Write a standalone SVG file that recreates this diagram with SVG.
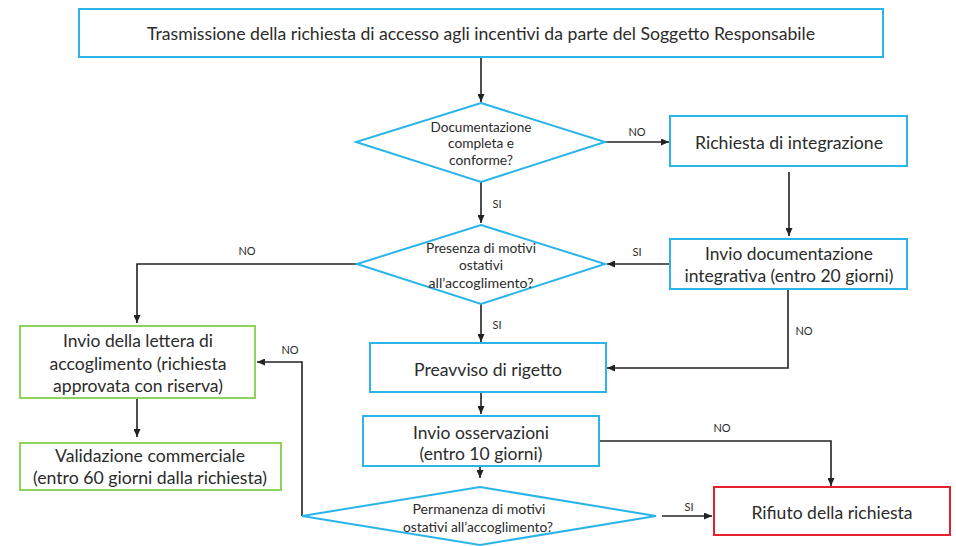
<svg xmlns="http://www.w3.org/2000/svg" width="956" height="546" viewBox="0 0 956 546">
<defs>
<marker id="ah" markerUnits="userSpaceOnUse" markerWidth="8" markerHeight="7" refX="8" refY="3.5" orient="auto">
<path d="M0,0 L8,3.5 L0,7 z" fill="#222"/>
</marker>
</defs>
<style>
.blue{fill:#fff;stroke:#29b5ea;stroke-width:2}
.green{fill:#fff;stroke:#8fd35a;stroke-width:2}
.red{fill:#fff;stroke:#e8202a;stroke-width:2}
text{font-family:Lato,"Open Sans",sans-serif;fill:#2b2b2b;text-anchor:middle;dominant-baseline:central}
.t{font-size:18px}
.d{font-size:13.5px}
.l{font-size:11px}
.c{fill:none;stroke:#222;stroke-width:1.6;marker-end:url(#ah)}
</style>
<rect width="956" height="546" fill="#fff"/>
<g id="connectors">
<path class="c" d="M481,58 V102"/>
<path class="c" d="M605,142 H669"/>
<path class="c" d="M789,172 V236"/>
<path class="c" d="M669,264 H607"/>
<path class="c" d="M481,182 V223"/>
<path class="c" d="M357,264 H137 V323"/>
<path class="c" d="M481,304 V342"/>
<path class="c" d="M788,290 V368 H607"/>
<path class="c" d="M481,393 V414"/>
<path class="c" d="M599,441 H831 V486"/>
<path class="c" d="M480,466 V478"/>
<path class="c" d="M662,516 H712"/>
<path class="c" d="M302,516 V362 H257"/>
<path class="c" d="M137,399 V437"/>
<text class="l" x="637" y="131">NO</text>
<text class="l" x="497" y="203">SI</text>
<text class="l" x="637" y="251">SI</text>
<text class="l" x="247" y="250">NO</text>
<text class="l" x="497" y="324">SI</text>
<text class="l" x="804" y="330">NO</text>
<text class="l" x="722" y="427">NO</text>
<text class="l" x="290" y="349">NO</text>
<text class="l" x="689" y="506">SI</text>
</g>
<g id="n_trasmissione">
<rect class="blue" x="79" y="9" width="804" height="48"/>
<text class="t" x="481" y="33" font-size="17" textLength="668" lengthAdjust="spacingAndGlyphs">Trasmissione della richiesta di accesso agli incentivi da parte del Soggetto Responsabile</text>
</g>
<g id="n_documentazione">
<polygon class="blue" points="481,103 605,142 481,182 356,142"/>
<text class="d" x="481" y="127" textLength="101" lengthAdjust="spacingAndGlyphs">Documentazione</text>
<text class="d" x="481" y="143" textLength="66" lengthAdjust="spacingAndGlyphs">completa e</text>
<text class="d" x="481" y="160" textLength="64" lengthAdjust="spacingAndGlyphs">conforme?</text>
</g>
<g id="n_richiesta_integrazione">
<rect class="blue" x="670" y="116" width="237" height="50"/>
<text class="t" x="789" y="142" textLength="188" lengthAdjust="spacingAndGlyphs">Richiesta di integrazione</text>
</g>
<g id="n_invio_doc">
<rect class="blue" x="670" y="239" width="237" height="50"/>
<text class="t" x="789" y="253" textLength="168" lengthAdjust="spacingAndGlyphs">Invio documentazione</text>
<text class="t" x="789" y="275" textLength="209" lengthAdjust="spacingAndGlyphs">integrativa (entro 20 giorni)</text>
</g>
<g id="n_presenza">
<polygon class="blue" points="481,225 605,264 481,304 357,264"/>
<text class="d" x="481" y="248" textLength="110" lengthAdjust="spacingAndGlyphs">Presenza di motivi</text>
<text class="d" x="481" y="265" textLength="44" lengthAdjust="spacingAndGlyphs">ostativi</text>
<text class="d" x="481" y="283" textLength="105" lengthAdjust="spacingAndGlyphs">all’accoglimento?</text>
</g>
<g id="n_lettera">
<rect class="green" x="20" y="326" width="235" height="72"/>
<text class="t" x="138" y="340" textLength="150" lengthAdjust="spacingAndGlyphs">Invio della lettera di</text>
<text class="t" x="138" y="363" textLength="177" lengthAdjust="spacingAndGlyphs">accoglimento (richiesta</text>
<text class="t" x="138" y="385" textLength="170" lengthAdjust="spacingAndGlyphs">approvata con riserva)</text>
</g>
<g id="n_validazione">
<rect class="green" x="20" y="443" width="261" height="47"/>
<text class="t" x="150" y="455" textLength="190" lengthAdjust="spacingAndGlyphs">Validazione commerciale</text>
<text class="t" x="150" y="477" textLength="234" lengthAdjust="spacingAndGlyphs">(entro 60 giorni dalla richiesta)</text>
</g>
<g id="n_preavviso">
<rect class="blue" x="370" y="343" width="236" height="49"/>
<text class="t" x="488" y="369" textLength="148" lengthAdjust="spacingAndGlyphs">Preavviso di rigetto</text>
</g>
<g id="n_osservazioni">
<rect class="blue" x="363" y="416" width="236" height="50"/>
<text class="t" x="481" y="432" textLength="136" lengthAdjust="spacingAndGlyphs">Invio osservazioni</text>
<text class="t" x="481" y="453" textLength="123" lengthAdjust="spacingAndGlyphs">(entro 10 giorni)</text>
</g>
<g id="n_permanenza">
<polygon class="blue" points="480,487 656,516 480,545 302,516"/>
<text class="d" x="479" y="509" textLength="133" lengthAdjust="spacingAndGlyphs">Permanenza di motivi</text>
<text class="d" x="478" y="527" textLength="150" lengthAdjust="spacingAndGlyphs">ostativi all’accoglimento?</text>
</g>
<g id="n_rifiuto">
<rect class="red" x="714" y="487" width="236" height="48"/>
<text class="t" x="832" y="512" textLength="161" lengthAdjust="spacingAndGlyphs">Rifiuto della richiesta</text>
</g>
</svg>
